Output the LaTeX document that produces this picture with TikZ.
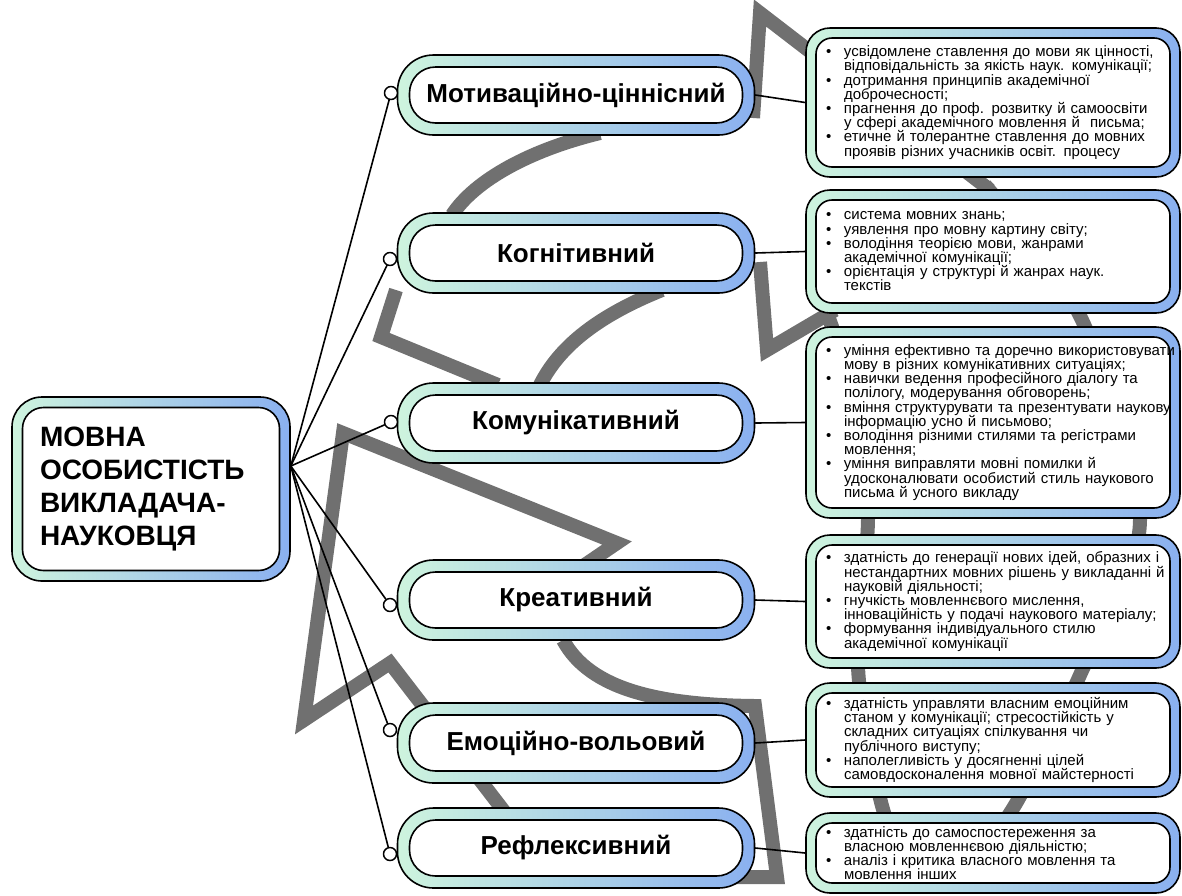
\documentclass[tikz,border=0pt]{standalone}
\usepackage{fontspec}
\setmainfont{Liberation Sans}
\definecolor{mintc}{RGB}{206,244,222}
\definecolor{skyc}{RGB}{138,176,240}
\definecolor{greyc}{RGB}{112,112,112}
\newcommand{\descfont}{\fontsize{15}{14.2}\selectfont\lineskiplimit=-100pt\relax}
\newcommand{\bitem}[1]{\mbox{\makebox[18pt][l]{\textbullet}#1}}
\newcommand{\bcont}[1]{\mbox{\hspace*{18pt}#1}}

\begin{document}
\begin{tikzpicture}[x=1pt, y=-1pt, line join=round, line cap=round,
  ringbox/.style n args={3}{draw=black, line width=1.6pt, rounded corners=#1,
    left color=mintc, right color=skyc,
    path picture={\draw[line width=1.6pt, fill=white, rounded corners=#2]
      ([xshift=#3,yshift=#3]path picture bounding box.south west) rectangle
      ([xshift=-#3,yshift=-#3]path picture bounding box.north east);}},
  mainbox/.style={ringbox={30pt}{21pt}{10.5pt}, minimum width=278pt, minimum height=184pt,
    text width=222pt, inner xsep=28pt, align=left, font=\bfseries\fontsize{28}{33}\selectfont},
  catbox/.style={ringbox={36pt}{26pt}{12pt}, minimum width=357pt, minimum height=80pt,
    font=\bfseries\fontsize{26}{30}\selectfont},
  descbox/.style={ringbox={24pt}{16pt}{10pt}, minimum width=374pt, text width=334pt,
    inner xsep=20pt, align=left, font=\descfont},
  knob/.style={circle, draw=black, line width=1.5pt, fill=white, minimum size=13pt, inner sep=0pt},
  link/.style={line width=1.6pt, black},
  deco/.style={line width=14pt, greyc, line join=miter, line cap=butt}]
\useasboundingbox (0,0) rectangle (1182,895);

% grey background strokes
\draw[deco] (753,118) -- (760,13) -- (990,190);
\draw[deco] plot[smooth] coordinates {(985,185) (1082,320) (1140,520) (1080,675) (1015,805) (960,880)};
\draw[deco] (760,262) -- (767,350) -- (835,310);
\draw[deco] plot[smooth] coordinates {(828,316) (855,400) (868,515) (858,667) (880,798) (905,870)};
\draw[deco] (600,133) .. controls (530,150) and (475,180) .. (452,215);
\draw[deco] (396,290) -- (381,337) -- (498,385);
\draw[deco] (662,290) .. controls (600,315) and (560,345) .. (540,385);
\draw[deco] (570,575) -- (617,543) -- (343,433) -- (304,720) -- (390,663) -- (530,845);
\draw[deco] (563,640) .. controls (590,690) and (660,705) .. (755,706) -- (777,877) -- (700,877);

% nodes
\node[mainbox] (m) at (151,489) {МОВНА\\ ОСОБИСТІСТЬ\\ ВИКЛАДАЧА-\\ НАУКОВЦЯ};
\coordinate (hub) at ([yshift=23pt]m.east);

\node[catbox] (k1) at (576,95) {Мотиваційно-ціннісний};
\node[catbox] (k2) at (576,253) {Когнітивний};
\node[catbox] (k3) at (576,423) {Комунікативний};
\node[catbox] (k4) at (576,600) {Креативний};
\node[catbox] (k5) at (576,743) {Емоційно-вольовий};
\node[catbox] (k6) at (576,848) {Рефлексивний};

\node[knob] (c1) at (391,93) {};
\node[knob] (c2) at (390,259) {};
\node[knob] (c3) at (391,422) {};
\node[knob] (c4) at (390,605) {};
\node[knob] (c5) at (390,730) {};
\node[knob] (c6) at (390,854) {};

\node[descbox, minimum height=149pt] (d1) at (993,102.5) {%
  \bitem{усвідомлене ставлення до мови як цінності,}\\
  \bcont{відповідальність за якість наук. комунікації;}\\
  \bitem{дотримання принципів академічної}\\
  \bcont{доброчесності;}\\
  \bitem{прагнення до проф. розвитку й самоосвіти}\\
  \bcont{у сфері академічного мовлення й\ \ письма;}\\
  \bitem{етичне й толерантне ставлення до мовних}\\
  \bcont{проявів різних учасників освіт. процесу}};
\node[descbox, minimum height=123pt] (d2) at (993,251.5) {%
  \bitem{система мовних знань;}\\
  \bitem{уявлення про мовну картину світу;}\\
  \bitem{володіння теорією мови, жанрами}\\
  \bcont{академічної комунікації;}\\
  \bitem{орієнтація у структурі й жанрах наук.}\\
  \bcont{текстів}};
\node[descbox, minimum height=191pt] (d3) at (993,422.5) {%
  \bitem{уміння ефективно та доречно використовувати}\\
  \bcont{мову в різних комунікативних ситуаціях;}\\
  \bitem{навички ведення професійного діалогу та}\\
  \bcont{полілогу, модерування обговорень;}\\
  \bitem{вміння структурувати та презентувати наукову}\\
  \bcont{інформацію усно й письмово;}\\
  \bitem{володіння різними стилями та регістрами}\\
  \bcont{мовлення;}\\
  \bitem{уміння виправляти мовні помилки й}\\
  \bcont{удосконалювати особистий стиль наукового}\\
  \bcont{письма й усного викладу}};
\node[descbox, minimum height=133pt] (d4) at (993,601.5) {%
  \bitem{здатність до генерації нових ідей, образних і}\\
  \bcont{нестандартних мовних рішень у викладанні й}\\
  \bcont{науковій діяльності;}\\
  \bitem{гнучкість мовленнєвого мислення,}\\
  \bcont{інноваційність у подачі наукового матеріалу;}\\
  \bitem{формування індивідуального стилю}\\
  \bcont{академічної комунікації}};
\node[descbox, minimum height=114pt] (d5) at (993,740) {%
  \bitem{здатність управляти власним емоційним}\\
  \bcont{станом у комунікації; стресостійкість у}\\
  \bcont{складних ситуаціях спілкування чи}\\
  \bcont{публічного виступу;}\\
  \bitem{наполегливість у досягненні цілей}\\
  \bcont{самовдосконалення мовної майстерності}};
\node[descbox, minimum height=80pt] (d6) at (993,853) {%
  \bitem{здатність до самоспостереження за}\\
  \bcont{власною мовленнєвою діяльністю;}\\
  \bitem{аналіз і критика власного мовлення та}\\
  \bcont{мовлення інших}};

% connectors
\foreach \i in {1,...,6} {
  \draw[link] (hub) -- (c\i);
  \draw[link] (k\i.east) -- (d\i.west);
}
\end{tikzpicture}
\end{document}
